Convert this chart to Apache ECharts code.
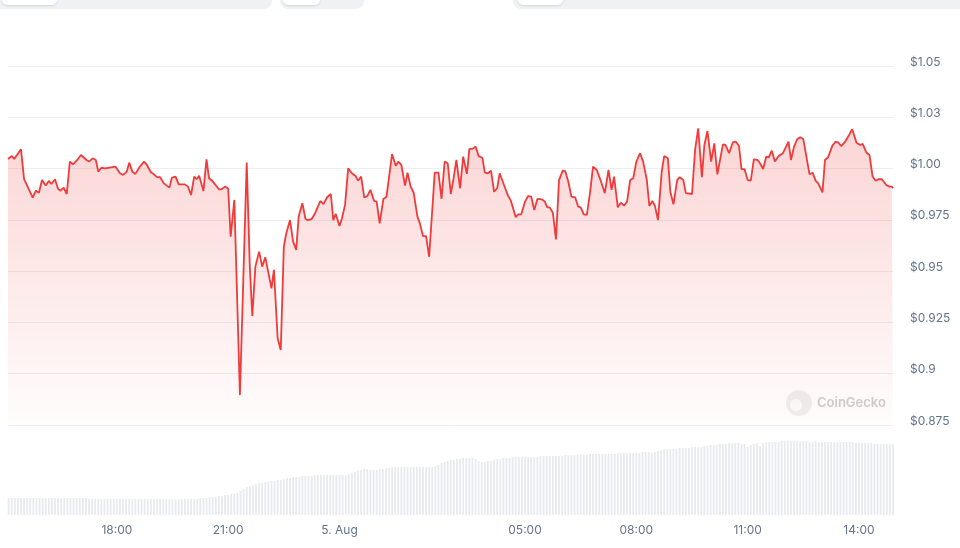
<!DOCTYPE html>
<html>
<head>
<meta charset="utf-8">
<style>
html, body { margin: 0; padding: 0; background: #fff; }
#main { width: 960px; height: 548px; }
</style>
<script src="https://cdn.jsdelivr.net/npm/echarts@6/dist/echarts.min.js"></script>
</head>
<body>
<div id="main"></div>
<script>
// minutes after 15:00 (4 Aug)
var priceMinutes = [
    4, 10, 14, 25, 30, 37, 44, 49, 54, 59,
    65, 70, 74, 80, 85, 89, 94, 99, 104, 109,
    116, 122, 125, 131, 135, 141, 146, 150, 155, 161,
    178, 185, 190, 196, 200, 205, 210, 217, 224, 228,
    235, 240, 245, 250, 256, 265, 269, 275, 280, 290,
    295, 300, 305, 309, 313, 320, 325, 329, 334, 345,
    349, 355, 360, 364, 370, 379, 390, 395, 399, 404,
    410, 415, 420, 430, 434, 440, 445, 450, 454, 460,
    465, 470, 474, 480, 485, 489, 495, 501, 509, 514,
    520, 526, 530, 534, 540, 544, 549, 554, 560, 566,
    570, 575, 580, 585, 590, 596, 600, 605, 611, 616,
    625, 631, 635, 640, 646, 650, 655, 660, 666, 670,
    675, 680, 685, 694, 700, 705, 710, 715, 720, 724,
    729, 735, 740, 746, 750, 755, 760, 765, 771, 775,
    780, 785, 790, 795, 799, 806, 812, 817, 825, 829,
    834, 840, 845, 850, 855, 860, 867, 872, 876, 880,
    885, 890, 895, 901, 905, 910, 915, 921, 926, 930,
    935, 940, 945, 950, 956, 962, 969, 975, 980, 984,
    990, 995, 1000, 1005, 1010, 1015, 1020, 1026, 1031, 1037,
    1041, 1046, 1050, 1055, 1061, 1065, 1071, 1075, 1080, 1086,
    1090, 1096, 1100, 1110, 1115, 1120, 1126, 1130, 1135, 1141,
    1146, 1151, 1160, 1164, 1170, 1176, 1181, 1186, 1190, 1195,
    1200, 1205, 1210, 1216, 1220, 1225, 1230, 1234, 1239, 1244,
    1250, 1257, 1260, 1266, 1270, 1275, 1280, 1285, 1290, 1300,
    1305, 1310, 1314, 1321, 1325, 1330, 1337, 1342, 1347, 1351,
    1357, 1364, 1369, 1376, 1382, 1386, 1392, 1397, 1402, 1407,
    1412, 1417, 1424, 1429, 1433, 1435
];

var prices = [
    1.0047, 1.0061, 1.0047, 1.0094, 0.9949, 0.9904, 0.9858, 0.9892, 0.9882, 0.9944,
    0.9917, 0.9940, 0.9925, 0.9948, 0.9901, 0.9892, 0.9907, 0.9876, 1.0034, 1.0021,
    1.0042, 1.0066, 1.0066, 1.0042, 1.0034, 1.0050, 1.0042, 0.9985, 1.0004, 1.0001,
    1.0009, 0.9977, 0.9969, 0.9985, 1.0029, 0.9985, 0.9974, 1.0009, 1.0034, 1.0021,
    0.9982, 0.9972, 0.9958, 0.9958, 0.9928, 0.9907, 0.9956, 0.9961, 0.9923, 0.9923,
    0.9912, 0.9871, 0.9961, 0.9948, 0.9965, 0.9891, 1.0045, 0.9953, 0.9941, 0.9899,
    0.9899, 0.9912, 0.9903, 0.9668, 0.9847, 0.8896, 1.0029, 0.9522, 0.9281, 0.9522,
    0.9595, 0.9522, 0.9568, 0.9416, 0.9506, 0.9173, 0.9116, 0.9619, 0.9685, 0.9749,
    0.9644, 0.9603, 0.9766, 0.9831, 0.9754, 0.9749, 0.9754, 0.9785, 0.9842, 0.9827,
    0.9860, 0.9876, 0.9749, 0.9779, 0.9720, 0.9758, 0.9823, 1.0001, 0.9977, 0.9964,
    0.9941, 0.9961, 0.9860, 0.9866, 0.9896, 0.9842, 0.9839, 0.9733, 0.9852, 0.9863,
    1.0071, 1.0013, 1.0034, 1.0018, 0.9917, 0.9980, 0.9912, 0.9882, 0.9766, 0.9733,
    0.9671, 0.9671, 0.9570, 0.9980, 0.9980, 0.9852, 1.0034, 1.0026, 0.9876, 0.9944,
    1.0042, 0.9904, 1.0058, 0.9974, 1.0096, 1.0096, 1.0107, 1.0061, 1.0053, 0.9980,
    0.9977, 0.9990, 0.9887, 0.9904, 0.9977, 0.9920, 0.9871, 0.9844, 0.9763, 0.9777,
    0.9777, 0.9839, 0.9866, 0.9863, 0.9798, 0.9852, 0.9850, 0.9839, 0.9811, 0.9811,
    0.9785, 0.9655, 0.9944, 0.9990, 0.9988, 0.9936, 0.9863, 0.9860, 0.9814, 0.9811,
    0.9777, 0.9774, 0.9880, 1.0009, 0.9993, 0.9944, 0.9880, 0.9993, 0.9896, 0.9961,
    0.9811, 0.9834, 0.9819, 0.9839, 0.9944, 0.9953, 1.0034, 1.0075, 1.0034, 0.9944,
    0.9818, 0.9842, 0.9818, 0.9749, 0.9985, 1.0061, 1.0050, 0.9886, 0.9826, 0.9944,
    0.9958, 0.9944, 0.9880, 0.9876, 1.0091, 1.0196, 0.9958, 1.0115, 1.0183, 1.0034,
    1.0123, 0.9972, 1.0118, 1.0115, 1.0075, 1.0128, 1.0131, 1.0110, 0.9998, 0.9997,
    0.9944, 0.9941, 1.0045, 1.0042, 1.0026, 0.9998, 1.0058, 1.0055, 1.0087, 1.0034,
    1.0061, 1.0075, 1.0094, 1.0131, 1.0042, 1.0107, 1.0143, 1.0153, 1.0144, 0.9972,
    0.9980, 0.9940, 0.9928, 0.9884, 1.0042, 1.0055, 1.0112, 1.0131, 1.0126, 1.0110,
    1.0128, 1.0164, 1.0192, 1.0126, 1.0115, 1.0120, 1.0078, 1.0066, 0.9961, 0.9941,
    0.9949, 0.9948, 0.9920, 0.9912, 0.9912, 0.9905
];

// 5-minute volume bars (relative units)
var volumes = [
    17, 17, 17, 17, 17, 17, 17, 17, 17, 17, 17, 17, 17, 17, 17, 17, 17, 17, 17, 17,
    17, 17, 17, 17, 17, 17,
    16, 16, 16, 16, 16, 16, 16, 16, 16, 16, 16, 16, 16, 16, 16, 16, 16, 16, 16, 16,
    16, 16, 16, 16, 16, 16, 16, 16, 16, 16, 16, 16, 16, 16, 16,
    16, 17, 17, 17, 18, 18, 18, 19, 19,
    20, 20, 21, 21,
    22, 24, 26,
    28, 29, 30, 31, 32,
    32, 33, 33, 34, 34, 35, 35, 36,
    37, 37, 38, 38, 38, 39, 39, 39, 39, 40,
    40, 40, 40, 40, 40, 40, 40, 40, 40, 40,
    41, 42, 43, 44, 45, 46,
    46, 45, 45, 45, 46, 46, 47, 47, 48, 48,
    48, 48, 48, 48, 48, 48, 48, 48, 48, 48, 48, 48,
    49, 50, 52, 53, 54, 55, 55, 56, 56, 57, 57, 57,
    57, 56, 54, 53, 53, 54, 54, 55, 56, 56, 57, 57, 57, 58,
    58, 58, 58, 58, 58, 58, 58, 58, 59, 59, 59, 59, 59, 59, 59, 59,
    60, 60, 60, 60, 60, 60, 60, 60, 61, 61, 61, 61, 61, 61, 61, 61, 61,
    62, 62, 62, 62, 62, 62, 62, 62,
    63, 63, 63, 62, 63, 64, 65, 66, 66, 66, 66, 66, 67, 67, 67, 67, 68, 68, 68, 68,
    69, 69, 70, 70, 70, 71, 71, 71, 72, 72, 72, 72, 71, 71, 68,
    70, 71, 72, 69, 72, 73, 73, 73, 73, 73, 74, 74, 74, 74,
    74, 74, 73, 74, 74, 73, 73, 74, 73, 73, 73, 73, 73,
    73, 73, 73, 73, 73, 73, 73, 72, 72, 72, 72, 72, 72, 71, 71, 71, 71, 71, 71, 71
];

var yTickLabels = ['$0.875', '$0.9', '$0.925', '$0.95', '$0.975', '$1.00', '$1.03', '$1.05'];
var xTickMinutes = [180, 360, 540, 840, 1020, 1200, 1380];
var xTickLabels = ['18:00', '21:00', '5. Aug', '05:00', '08:00', '11:00', '14:00'];

var priceData = [];
for (var i = 0; i < prices.length; i++) {
    priceData.push([priceMinutes[i], prices[i]]);
}
var volumeData = [];
for (var j = 0; j < volumes.length; j++) {
    volumeData.push([5 + 5 * j, volumes[j]]);
}

var tMin = priceMinutes[0];
var tMax = priceMinutes[priceMinutes.length - 1];
var labelColor = '#64748b';
var font = 'Inter, "Noto Sans", sans-serif';

var chartDom = document.getElementById('main');
var myChart = echarts.init(chartDom, null, { renderer: 'canvas' });

var option = {
    backgroundColor: '#fff',
    animation: false,
    grid: [
        { left: 8, right: 67, top: 66, height: 359 },
        { left: 8, right: 67, top: 441, height: 74 }
    ],
    xAxis: [
        {
            type: 'value',
            gridIndex: 0,
            min: tMin,
            max: tMax,
            show: false
        },
        {
            type: 'value',
            gridIndex: 1,
            min: tMin,
            max: tMax,
            axisLine: { show: false },
            axisTick: { show: false },
            splitLine: { show: false },
            axisLabel: {
                customValues: xTickMinutes,
                margin: 9,
                color: labelColor,
                fontSize: 12,
                fontFamily: font,
                formatter: function (v) {
                    var k = xTickMinutes.indexOf(v);
                    return k >= 0 ? xTickLabels[k] : '';
                }
            }
        }
    ],
    yAxis: [
        {
            type: 'value',
            gridIndex: 0,
            position: 'right',
            min: 0.875,
            max: 1.05,
            interval: 0.025,
            axisLine: { show: false },
            axisTick: { show: false },
            splitLine: { lineStyle: { color: '#eceef1', width: 1 } },
            axisLabel: {
                margin: 17,
                color: labelColor,
                fontSize: 12,
                fontFamily: font,
                verticalAlign: 'bottom',
                lineHeight: 8,
                formatter: function (v) {
                    var k = Math.round((v - 0.875) / 0.025);
                    return yTickLabels[k] || '';
                }
            }
        },
        {
            type: 'value',
            gridIndex: 1,
            min: 0,
            max: 74,
            show: false
        }
    ],
    graphic: [
        { type: 'rect', shape: { x: -10, y: -10, width: 282, height: 19, r: 8 }, style: { fill: '#eff2f5' } },
        { type: 'rect', shape: { x: 2, y: -10, width: 55, height: 15, r: 5 }, style: { fill: '#fff', shadowBlur: 2, shadowColor: 'rgba(0,0,0,0.12)', shadowOffsetY: 1 } },
        { type: 'rect', shape: { x: 280, y: -10, width: 84, height: 19, r: 8 }, style: { fill: '#eff2f5' } },
        { type: 'rect', shape: { x: 283, y: -10, width: 37, height: 15, r: 5 }, style: { fill: '#fff', shadowBlur: 2, shadowColor: 'rgba(0,0,0,0.12)', shadowOffsetY: 1 } },
        { type: 'rect', shape: { x: 513, y: -10, width: 460, height: 19, r: 8 }, style: { fill: '#eff2f5' } },
        { type: 'rect', shape: { x: 518, y: -10, width: 45, height: 15, r: 5 }, style: { fill: '#fff', shadowBlur: 2, shadowColor: 'rgba(0,0,0,0.12)', shadowOffsetY: 1 } },
        { type: 'circle', shape: { cx: 799, cy: 403, r: 13 }, style: { fill: 'rgba(225,225,225,0.55)' }, z: 1 },
        { type: 'circle', shape: { cx: 796, cy: 405, r: 6 }, style: { fill: 'rgba(255,255,255,0.8)' }, z: 1 },
        {
            type: 'text', x: 817, y: 403, z: 1,
            style: {
                text: 'CoinGecko', fill: 'rgba(200,200,200,0.9)', font: '600 13px ' + font,
                verticalAlign: 'middle'
            }
        }
    ],
    series: [
        {
            type: 'bar',
            xAxisIndex: 1,
            yAxisIndex: 1,
            data: volumeData,
            barWidth: 1.8,
            silent: true,
            itemStyle: { color: '#e8eaee' }
        },
        {
            type: 'line',
            xAxisIndex: 0,
            yAxisIndex: 0,
            data: priceData,
            showSymbol: false,
            silent: true,
            z: 3,
            lineStyle: { color: '#ef3b3b', width: 1.8 },
            areaStyle: {
                color: new echarts.graphic.LinearGradient(0, 0, 0, 1, [
                    { offset: 0, color: 'rgba(239,68,68,0.32)' },
                    { offset: 1, color: 'rgba(239,68,68,0.02)' }
                ])
            }
        }
    ]
};

option && myChart.setOption(option);
</script>
</body>
</html>
